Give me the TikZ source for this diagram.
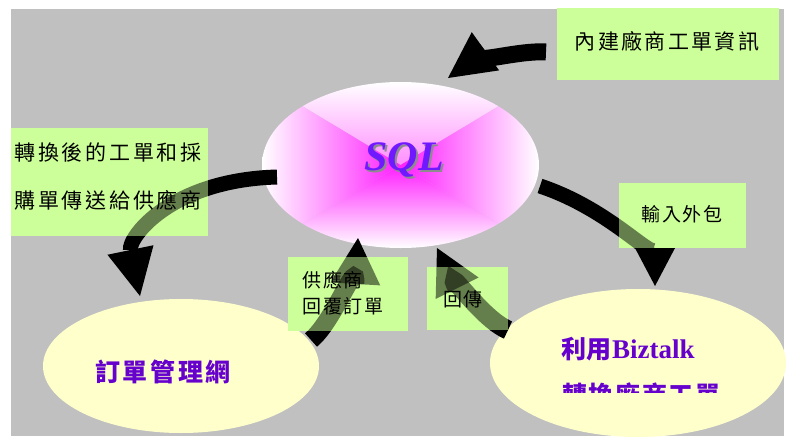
\documentclass[tikz,border=0pt]{standalone}
\usepackage{fontspec}
\setmainfont{Liberation Serif}
\newfontfamily\cjk{Noto Sans CJK TC}
\usetikzlibrary{shapes.geometric,arrows.meta}

\definecolor{panelgray}{RGB}{192,192,192}
\definecolor{notegreen}{RGB}{204,255,153}
\definecolor{cream}{RGB}{255,255,204}
\definecolor{labelpurple}{RGB}{102,0,204}
\definecolor{sqlviolet}{RGB}{112,24,255}
\definecolor{sqlmag}{RGB}{255,30,255}
\definecolor{sqlshade}{RGB}{140,140,140}

% set every character of #2 in a box of width #1
\makeatletter
\newcommand\pitched[2]{\def\pitch@w{#1}\@tfor\pitch@c:=#2\do{\makebox[\pitch@w][c]{\pitch@c}}}
\makeatother

% text with a grey drop shadow behind it
\newcommand\shadowed[1]{\rlap{\hspace{2pt}\raisebox{-2pt}{\textcolor{sqlshade}{#1}}}#1}

\tikzset{
  notebox/.style={rectangle, fill=notegreen, draw=none, inner sep=0pt, anchor=north west},
  boxtext/.style={inner sep=0pt, text=black, font=\cjk\fontsize{21pt}{25pt}\selectfont},
  smalltext/.style={inner sep=0pt, text=black, font=\cjk\fontsize{19pt}{23pt}\selectfont},
  bigtext/.style={inner sep=0pt, text=labelpurple, font=\cjk\bfseries\fontsize{25pt}{29pt}\selectfont},
  blob/.style={ellipse, fill=cream, draw=none, inner sep=0pt},
  flow/.style n args={3}{draw=black, line width=#1pt,
    -{Triangle[length=#2pt, width=#3pt, line width=0pt]}},
  sqlfill/.style={path picture={
    \shade[top color=white, bottom color=sqlmag]
      (path picture bounding box.north west) -- (path picture bounding box.north east)
      -- (path picture bounding box.center) -- cycle;
    \shade[top color=sqlmag, bottom color=white]
      (path picture bounding box.south west) -- (path picture bounding box.south east)
      -- (path picture bounding box.center) -- cycle;
    \shade[left color=white, right color=sqlmag]
      (path picture bounding box.north west) -- (path picture bounding box.south west)
      -- (path picture bounding box.center) -- cycle;
    \shade[left color=sqlmag, right color=white]
      (path picture bounding box.north east) -- (path picture bounding box.south east)
      -- (path picture bounding box.center) -- cycle;
  }},
}

% the five block arrows of the order flow
\newcommand\drawflows{%
  \draw[flow={17}{46}{47}] (f1s) .. controls (515,50) and (462,68) .. (f1e);
  \draw[flow={15}{47}{47}] (f2s) .. controls (170,180) and (128,238) .. (f2e);
  \draw[flow={15}{38}{40}] (f3s) .. controls (612,210) and (655,263) .. (f3e);
  \draw[flow={18}{46}{50}] (f4s) .. controls (335,320) and (357,255) .. (f4e);
  \draw[flow={19}{45}{48}] (f5s) .. controls (480,318) and (444,262) .. (f5e);
}

% redraw the arrows faintly inside a note box
\newcommand\ghostflows[1]{%
  \begin{scope}
    \clip (#1.south west) rectangle (#1.north east);
    \begin{scope}[opacity=0.5]
      \drawflows
    \end{scope}
  \end{scope}
}

\begin{document}
\begin{tikzpicture}[x=1pt,y=-1pt]
  \useasboundingbox (0,0) rectangle (786,436);
  \fill[white] (0,0) rectangle (786,436);
  \fill[panelgray] (11,9) rectangle (784,436);

  % database and the two systems
  \node[ellipse, sqlfill, minimum width=277pt, minimum height=166pt, inner sep=0pt] (sql) at (400.5,165) {};
  \node[blob, minimum width=276pt, minimum height=134pt] (mgmt) at (181,366) {};
  \node[blob, minimum width=296pt, minimum height=148pt] (biz) at (638,363) {};

  % arrow end points
  \coordinate (f1s) at (546,52);  \coordinate (f1e) at (448,78);
  \coordinate (f2s) at (277,177); \coordinate (f2e) at (140,296);
  \coordinate (f3s) at (540,186); \coordinate (f3e) at (655,286);
  \coordinate (f4s) at (311,340); \coordinate (f4e) at (358,238);
  \coordinate (f5s) at (508,330); \coordinate (f5e) at (437,248);

  \drawflows

  % note boxes
  \node[notebox, minimum width=222pt, minimum height=72pt] (nbuilt) at (557,8) {};
  \node[notebox, minimum width=197pt, minimum height=108pt] (nconv) at (11,128) {};
  \node[notebox, minimum width=127pt, minimum height=65pt] (nout) at (619,183) {};
  \node[notebox, minimum width=120pt, minimum height=74pt] (nreply) at (288,257) {};
  \node[notebox, minimum width=81pt, minimum height=63pt] (nback) at (427,267) {};

  \ghostflows{nbuilt}
  \ghostflows{nconv}
  \ghostflows{nout}
  \ghostflows{nreply}
  \ghostflows{nback}

  % note texts
  \node[boxtext] (tbuilt) at (667,41) {\pitched{23.4pt}{內建廠商工單資訊}};
  \node[boxtext] (tconv1) at (108,153) {\pitched{23.75pt}{轉換後的工單和採}};
  \node[boxtext] (tconv2) at (108,200) {\pitched{23.75pt}{購單傳送給供應商}};
  \node[smalltext] (tout) at (682,214) {\pitched{20.5pt}{輸入外包}};
  \node[smalltext, anchor=west] (treply1) at (302,280) {\pitched{20.5pt}{供應商}};
  \node[smalltext, anchor=west] (treply2) at (302,306) {\pitched{20.5pt}{回覆訂單}};
  \node[smalltext] (tback) at (463,299) {\pitched{20.5pt}{回傳}};

  % labels of the database and systems
  \node[inner sep=0pt, text=sqlviolet, font=\fontsize{42pt}{42pt}\selectfont\bfseries\itshape] (sqltext) at (404,161) {\shadowed{SQL}};
  \node[bigtext] (tmgmt) at (163,372) {\pitched{27.6pt}{訂單管理網}};
  \node[bigtext, anchor=west] (tbiz1) at (561,349) {\pitched{25.5pt}{利用}{\rmfamily\fontsize{27pt}{29pt}\selectfont Biztalk}};
  \begin{scope}
    \clip (540,370) rectangle (770,392);
    \node[bigtext, anchor=west] (tbiz2) at (561,395) {\pitched{26.7pt}{轉換廠商工單}};
  \end{scope}
\end{tikzpicture}
\end{document}
